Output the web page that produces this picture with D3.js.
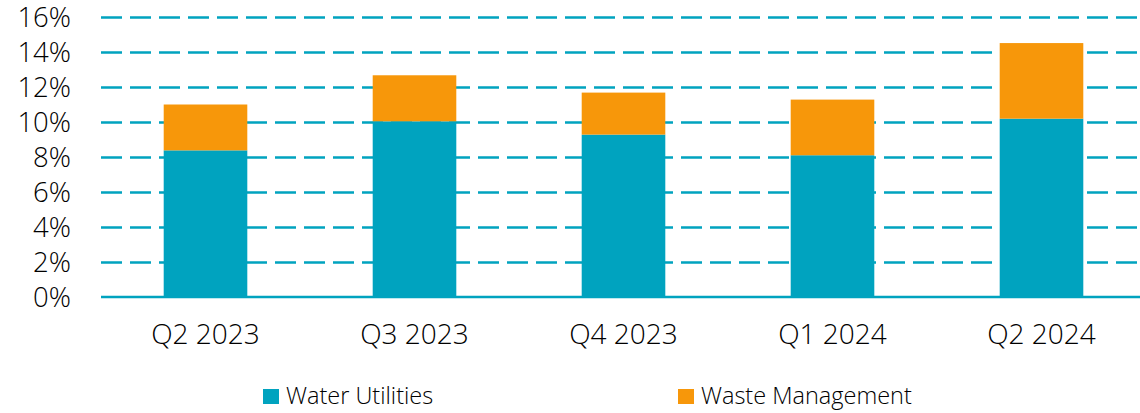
<!DOCTYPE html>
<html>
<head>
<meta charset="utf-8">
<script src="https://cdn.jsdelivr.net/npm/d3@7"></script>
<style>
  html, body { margin: 0; padding: 0; background: #fff; }
  svg text { font-family: "Open Sans", "Segoe UI", sans-serif; font-weight: 300; fill: #000; }
</style>
</head>
<body>
<svg id="chart" width="1140" height="413"></svg>
<script>
// Chart data (percent of total)
const quarters = ['Q2 2023', 'Q3 2023', 'Q4 2023', 'Q1 2024', 'Q2 2024'];
const waterUtilities = [8.38, 10.04, 9.28, 8.10, 10.19];
const wasteManagement = [2.62, 2.63, 2.40, 3.18, 4.32];
const seriesNames = ['Water Utilities', 'Waste Management'];
const yTicks = [0, 2, 4, 6, 8, 10, 12, 14, 16];

const colors = ['#00a3bf', '#f7970a'];

const svg = d3.select('#chart');
const margin = { top: 17, left: 101, bottom: 116 };
const plotRight = 1146;
const plotBottom = 413 - margin.bottom;

// Build stacked rows
const rows = quarters.map((q, i) => ({
  quarter: q,
  'Water Utilities': waterUtilities[i],
  'Waste Management': wasteManagement[i]
}));
const stacked = d3.stack().keys(seriesNames)(rows);

const x = d3.scaleBand()
  .domain(quarters)
  .range([margin.left, plotRight])
  .paddingInner(0.6)
  .paddingOuter(0.3);

const y = d3.scaleLinear()
  .domain([0, 16])
  .range([plotBottom, margin.top]);

// Dashed grid lines
svg.append('g')
  .attr('transform', `translate(${margin.left},0)`)
  .call(d3.axisLeft(y).tickValues(yTicks.filter(d => d > 0)).tickSize(-(plotRight - margin.left)).tickFormat(''))
  .call(g => g.select('.domain').remove())
  .selectAll('line')
  .attr('stroke', '#00a3bf')
  .attr('stroke-width', 2.6)
  .attr('stroke-dasharray', '21,8');

// Y tick labels
svg.append('g')
  .attr('transform', `translate(${margin.left},0)`)
  .call(d3.axisLeft(y).tickValues(yTicks).tickSize(0).tickPadding(30).tickFormat(d => d + '%'))
  .call(g => g.select('.domain').remove())
  .selectAll('text')
  .attr('font-size', 27.5)
  .attr('dy', '0.36em');

// Stacked bars
svg.append('g')
  .selectAll('g')
  .data(stacked)
  .join('g')
  .attr('fill', (d, i) => colors[i])
  .selectAll('rect')
  .data(d => d)
  .join('rect')
  .attr('x', d => x(d.data.quarter))
  .attr('width', x.bandwidth())
  .attr('y', d => y(d[1]))
  .attr('height', d => y(d[0]) - y(d[1]));

// Baseline
svg.append('line')
  .attr('x1', margin.left)
  .attr('x2', plotRight)
  .attr('y1', y(0))
  .attr('y2', y(0))
  .attr('stroke', '#00a3bf')
  .attr('stroke-width', 2.6);

// X labels
svg.append('g')
  .attr('transform', `translate(0,${plotBottom})`)
  .call(d3.axisBottom(x).tickSize(0).tickPadding(27))
  .call(g => g.select('.domain').remove())
  .selectAll('text')
  .attr('font-size', 28);

// Legend
const legendX = [263, 678];
const legend = svg.append('g');
seriesNames.forEach((name, i) => {
  legend.append('rect')
    .attr('x', legendX[i])
    .attr('y', 389)
    .attr('width', 16)
    .attr('height', 15)
    .attr('fill', colors[i]);
  legend.append('text')
    .attr('x', legendX[i] + 23)
    .attr('y', 404)
    .attr('font-size', 23.5)
    .text(name);
});
</script>
</body>
</html>
